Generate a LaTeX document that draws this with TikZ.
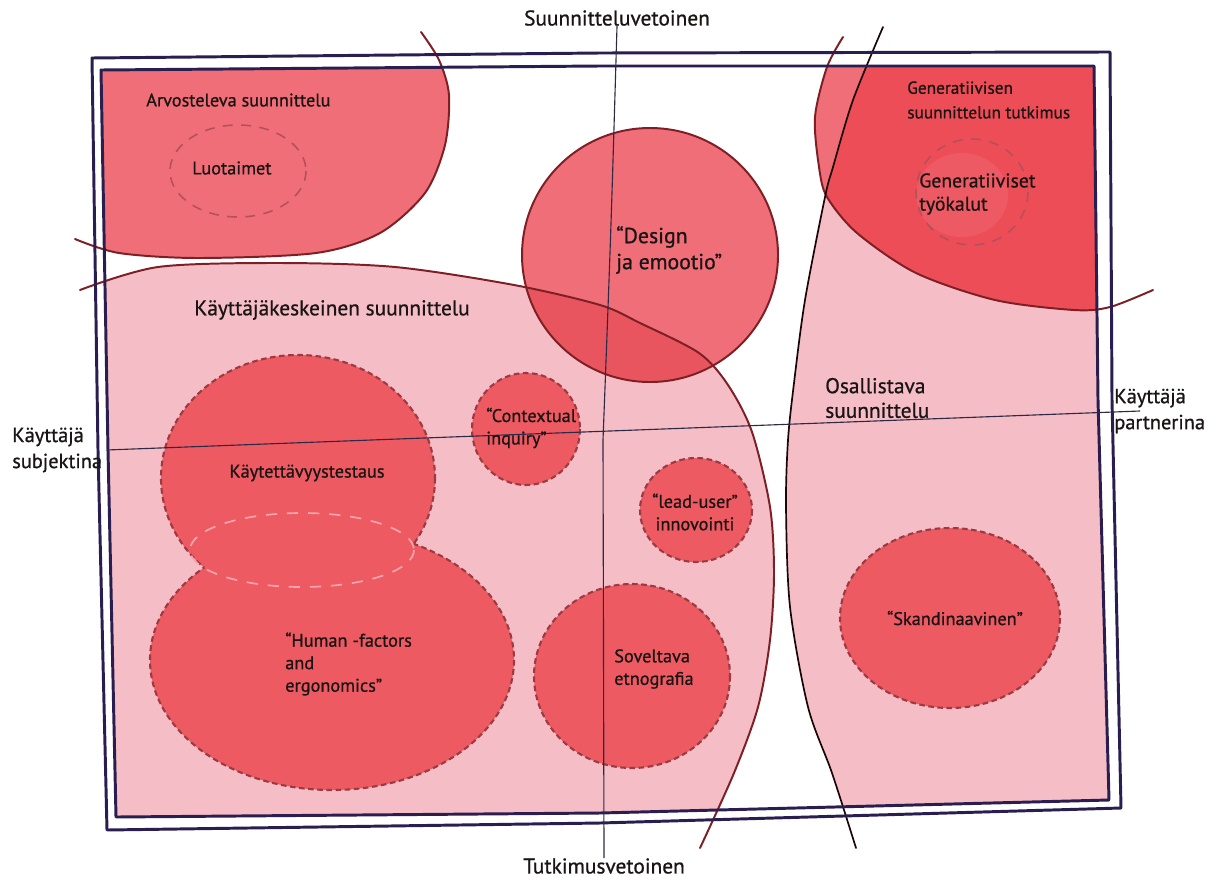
\documentclass[tikz,border=0pt]{standalone}
\usepackage{fontspec}
\setmainfont{PT Sans}[FakeBold=0.8]
\usepackage{tikz}

\begin{document}
\begin{tikzpicture}[
  x=0.025cm, y=-0.025cm,
  font=\fontsize{13}{16}\selectfont,
  lab/.style={inner sep=0pt, align=left, anchor=west, text=inkdark},
  sidetext/.style={font=\fontsize{14.5}{18.5}\selectfont},
  midtext/.style={font=\fontsize{15.2}{17.5}\selectfont},
  bigtext/.style={font=\fontsize{15.5}{18.5}\selectfont},
  boundary/.style={draw=curvered, line width=1.4pt, line cap=round},
  blobfill/.style={fill=blobred},
  blobline/.style={draw=blobedge, line width=1.5pt, dash pattern=on 4pt off 2.5pt},
  probe/.style={draw=probeedge, line width=1.1pt, dash pattern=on 7pt off 6pt},
  frameline/.style={draw=framenavy, line width=2.1pt, line join=round},
  axisline/.style={draw=axisnavy, line width=.8pt},
  aedge/.style={insert path={plot[smooth] coordinates {(421,32) (439,60) (449,95)
    (445,145) (425,193) (380,233) (316,253) (198,258) (119,253) (75,239)}}},
  kedge/.style={insert path={plot[smooth] coordinates {(80,290) (158,267) (277,263)
    (395,267) (514,285) (600,305) (640,323) (699,353) (728,385) (752,432) (770,507)
    (774,573) (770,640) (758,707) (734,773) (700,848)}}},
  oedge/.style={insert path={plot[smooth] coordinates {(883,27) (853,100) (833,167)
    (825,197) (805,300) (794,383) (788,440) (786,507) (790,607) (808,707) (832,773)
    (856,848)}}},
  gedge/.style={insert path={plot[smooth] coordinates {(843,37) (827,67) (815,117)
    (819,167) (827,197) (857,233) (916,273) (995,300) (1074,310) (1110,307)
    (1153,290)}}}
]
\definecolor{pinkL}{HTML}{F5BDC6}
\definecolor{redM}{HTML}{EF6E78}
\definecolor{redD}{HTML}{EC4D57}
\definecolor{designdark}{HTML}{E9555E}
\definecolor{blobred}{HTML}{EE5A62}
\definecolor{blobedge}{HTML}{9C3A42}
\definecolor{probeedge}{HTML}{B5505A}
\definecolor{lensedge}{HTML}{F4A5AE}
\definecolor{curvered}{HTML}{7D1F25}
\definecolor{framenavy}{HTML}{2A1E50}
\definecolor{axisnavy}{HTML}{2E2A45}
\definecolor{inkdark}{HTML}{1A1414}

\useasboundingbox[fill=white] (0,0) rectangle (1220,881);

% Region fills inside the inner frame
\begin{scope}
  \clip (101,70) -- (600,66) -- (1094,66) -- (1098,400) -- (1109,800) -- (600,813)
    -- (116,817) -- (108,450) -- cycle;
  \fill[pinkL, kedge] -- (700,900) -- (0,900) -- (0,290) -- cycle;
  \fill[pinkL, oedge] -- (856,900) -- (1300,900) -- (1300,0) -- (883,0) -- cycle;
  \fill[redM, aedge] -- (0,239) -- (0,0) -- (421,0) -- cycle;
  \fill[redM, gedge] -- (1300,290) -- (1300,0) -- (843,0) -- cycle;
  \begin{scope}
    \clip[oedge] -- (856,900) -- (1300,900) -- (1300,0) -- (883,0) -- cycle;
    \fill[redD, gedge] -- (1300,290) -- (1300,0) -- (843,0) -- cycle;
  \end{scope}
\end{scope}

% Design ja emootio
\fill[redM] (650,255) ellipse [x radius=128, y radius=127];
\begin{scope}
  \clip (650,255) ellipse [x radius=128, y radius=127];
  \fill[designdark, kedge] -- (700,900) -- (0,900) -- (0,290) -- cycle;
\end{scope}
\draw[boundary] (650,255) ellipse [x radius=128, y radius=127];

% Hand drawn boundaries
\draw[boundary, aedge];
\draw[boundary, kedge];
\draw[boundary, gedge];
\draw[boundary, draw=black!80!curvered, line width=1.2pt, oedge];

% Method blobs
\fill[blobfill] (298,478) ellipse [x radius=137, y radius=123];
\fill[blobfill] (332,660) ellipse [x radius=182, y radius=130];
\begin{scope}
  \clip (-100,-100) -- (-100,1000) -- (1400,1000) -- (1400,-100) -- cycle
    (332,660) ellipse [x radius=182, y radius=130];
  \draw[blobline] (298,478) ellipse [x radius=137, y radius=123];
\end{scope}
\begin{scope}
  \clip (-100,-100) -- (-100,1000) -- (1400,1000) -- (1400,-100) -- cycle
    (298,478) ellipse [x radius=137, y radius=123];
  \draw[blobline] (332,660) ellipse [x radius=182, y radius=130];
\end{scope}
\draw[draw=lensedge, line width=1.2pt, dash pattern=on 8pt off 7pt]
  (302,550) ellipse [x radius=112, y radius=37];
\draw[blobfill, blobline] (526,429) ellipse [x radius=54, y radius=56];
\draw[blobfill, blobline] (696,510) ellipse [x radius=56, y radius=52];
\draw[blobfill, blobline] (632,676) ellipse [x radius=98, y radius=92];
\draw[blobfill, blobline] (950,618) ellipse [x radius=110, y radius=90];

% Dashed probes
\draw[probe] (238,171) ellipse [x radius=68, y radius=46];
\fill[white, opacity=.08] (962,195) ellipse [x radius=46, y radius=42];
\draw[probe] (972,192) ellipse [x radius=56, y radius=53];

% Frame
\draw[frameline] (92,58) -- (600,53) -- (1110,52) -- (1112,400) -- (1121,808)
  -- (600,823) -- (107,830) -- (98,450) -- cycle;
\draw[frameline] (101,70) -- (600,66) -- (1094,66) -- (1098,400) -- (1109,800)
  -- (600,813) -- (116,817) -- (108,450) -- cycle;

% Axis labels
\node[lab, midtext, anchor=center] (design) at (617,18) {Suunnitteluvetoinen};
\node[lab, midtext, anchor=center] (research) at (604,866) {Tutkimusvetoinen};
\node[lab, sidetext] (subject) at (12,450) {Käyttäjä\\subjektina};
\node[lab, sidetext] (partner) at (1114,411) {Käyttäjä\\partnerina};

\draw[axisline] (design.south) .. controls (611,230) .. (603,440) -- (research.north);
\draw[axisline] ([xshift=1mm]subject.east) -- ([xshift=6.5mm]partner.west);

% Region labels
\node[lab] (critical) at (146,100) {Arvosteleva suunnittelu};
\node[lab] (probes) at (192,168) {Luotaimet};
\node[lab, midtext] (ucd) at (194,310) {Käyttäjäkeskeinen suunnittelu};
\node[lab, bigtext] (emotion) at (616,250) {“Design\\ja emootio”};
\node[lab, font=\fontsize{12.3}{17.5}\selectfont] (generative) at (907,100)
  {Generatiivisen\\suunnittelun tutkimus};
\node[lab, font=\fontsize{14}{16.5}\selectfont] (tools) at (919,194)
  {Generatiiviset\\työkalut};
\node[lab, midtext] (participatory) at (825,398) {Osallistava\\suunnittelu};

% Method labels
\node[lab] (contextual) at (486,428) {“Contextual\\inquiry”};
\node[lab, anchor=center] (usability) at (307,473) {Käytettävyystestaus};
\node[lab, align=center, anchor=center] (leaduser) at (695,512) {“lead-user”\\innovointi};
\node[lab] (humanfactors) at (285,664) {“Human -factors\\and\\ergonomics”};
\node[lab] (ethno) at (614,669) {Soveltava\\etnografia};
\node[lab, anchor=center] (scandi) at (955,618) {“Skandinaavinen”};
\end{tikzpicture}
\end{document}
